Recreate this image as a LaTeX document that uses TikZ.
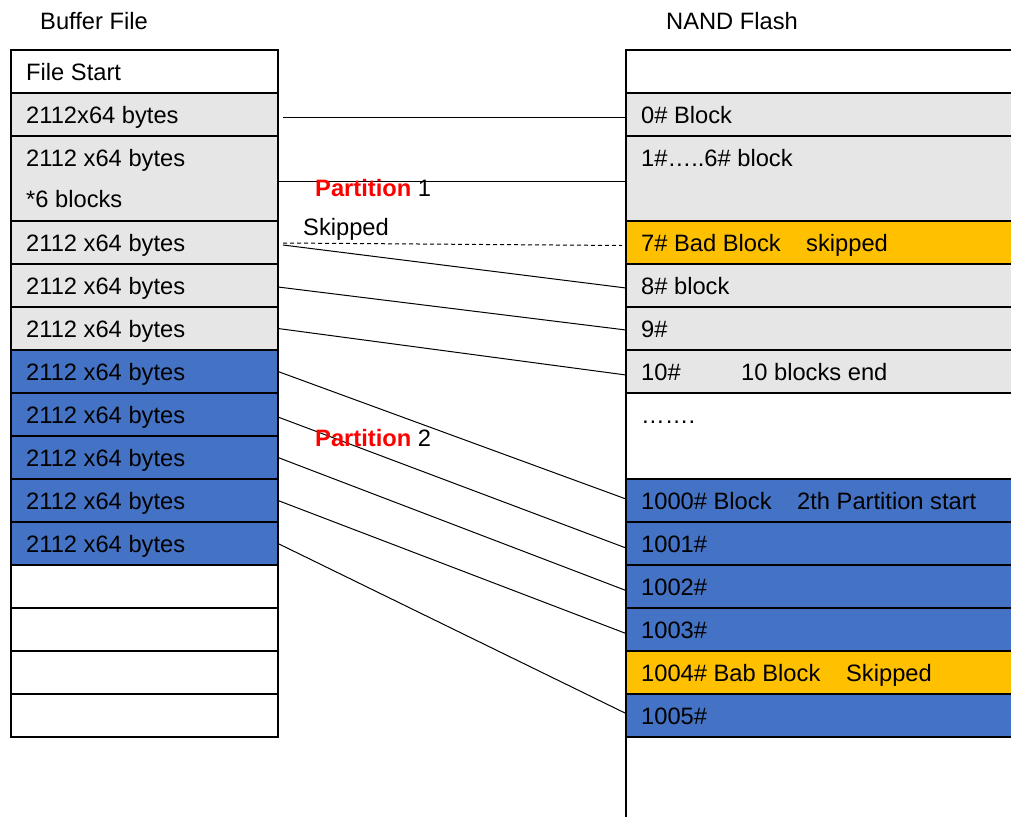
\documentclass[tikz,border=0pt]{standalone}
\usepackage{fontspec}
\setmainfont{Liberation Sans}
\definecolor{cgray}{HTML}{E6E6E6}
\definecolor{cblue}{HTML}{4472C4}
\definecolor{corange}{HTML}{FFC000}
\definecolor{cred}{HTML}{FF0000}
\begin{document}
\begin{tikzpicture}[x=1pt,y=-1pt,
  cell/.style={draw=black, line width=2pt, rectangle, inner sep=0pt, outer sep=0pt, minimum width=267pt, minimum height=43pt},
  rcell/.style={draw=black, line width=2pt, rectangle, inner sep=0pt, outer sep=0pt, minimum width=404pt, minimum height=43pt},
  txt/.style={anchor=base west, inner sep=0pt, font=\fontsize{23.7pt}{28pt}\selectfont},
  link/.style={line width=1pt, black},
  skiplink/.style={line width=1pt, black, dash pattern=on 4pt off 3pt},
  border/.style={line width=2pt, black},
]
\useasboundingbox (0,0) rectangle (1011,816);
\clip (0,0) rectangle (1011,816);
\fill[white] (0,0) rectangle (1011,816);

% ---------- left column: Buffer File ----------
\node[cell, fill=white] (L0) at (144.5,71.5) {};
\node[cell, fill=cgray] (L1) at (144.5,114.5) {};
\node[cell, fill=cgray, minimum height=85pt] (L2) at (144.5,178.5) {};
\node[cell, fill=cgray] (L3) at (144.5,242.5) {};
\node[cell, fill=cgray] (L4) at (144.5,285.5) {};
\node[cell, fill=cgray] (L5) at (144.5,328.5) {};
\node[cell, fill=cblue] (L6) at (144.5,371.5) {};
\node[cell, fill=cblue] (L7) at (144.5,414.5) {};
\node[cell, fill=cblue] (L8) at (144.5,457.5) {};
\node[cell, fill=cblue] (L9) at (144.5,500.5) {};
\node[cell, fill=cblue] (L10) at (144.5,543.5) {};
\node[cell, fill=white] (L11) at (144.5,586.5) {};
\node[cell, fill=white] (L12) at (144.5,629.5) {};
\node[cell, fill=white] (L13) at (144.5,672.5) {};
\node[cell, fill=white] (L14) at (144.5,715.5) {};

\node[txt] (tL0) at ([shift={(15,30.5)}]L0.north west) {File Start};
\node[txt] (tL1) at ([shift={(15,30.5)}]L1.north west) {2112x64 bytes};
\node[txt] (tL2a) at ([shift={(15,30.5)}]L2.north west) {2112 x64 bytes};
\node[txt] (tL2b) at ([shift={(15,71.5)}]L2.north west) {*6 blocks};
\node[txt] (tL3) at ([shift={(15,30.5)}]L3.north west) {2112 x64 bytes};
\node[txt] (tL4) at ([shift={(15,30.5)}]L4.north west) {2112 x64 bytes};
\node[txt] (tL5) at ([shift={(15,30.5)}]L5.north west) {2112 x64 bytes};
\node[txt] (tL6) at ([shift={(15,30.5)}]L6.north west) {2112 x64 bytes};
\node[txt] (tL7) at ([shift={(15,30.5)}]L7.north west) {2112 x64 bytes};
\node[txt] (tL8) at ([shift={(15,30.5)}]L8.north west) {2112 x64 bytes};
\node[txt] (tL9) at ([shift={(15,30.5)}]L9.north west) {2112 x64 bytes};
\node[txt] (tL10) at ([shift={(15,30.5)}]L10.north west) {2112 x64 bytes};

% ---------- right column: NAND Flash ----------
\node[rcell, fill=white] (R0) at (828,71.5) {};
\node[rcell, fill=cgray] (R1) at (828,114.5) {};
\node[rcell, fill=cgray, minimum height=85pt] (R2) at (828,178.5) {};
\node[rcell, fill=corange] (R3) at (828,242.5) {};
\node[rcell, fill=cgray] (R4) at (828,285.5) {};
\node[rcell, fill=cgray] (R5) at (828,328.5) {};
\node[rcell, fill=cgray] (R6) at (828,371.5) {};
\node[rcell, fill=white, minimum height=86pt] (R7) at (828,436) {};
\node[rcell, fill=cblue] (R8) at (828,500.5) {};
\node[rcell, fill=cblue] (R9) at (828,543.5) {};
\node[rcell, fill=cblue] (R10) at (828,586.5) {};
\node[rcell, fill=cblue] (R11) at (828,629.5) {};
\node[rcell, fill=corange] (R12) at (828,672.5) {};
\node[rcell, fill=cblue] (R13) at (828,715.5) {};
\coordinate (rbot) at (626,830);
\draw[border] (R13.south west) -- (rbot);

\node[txt] (tR1) at ([shift={(15,30.5)}]R1.north west) {0\# Block};
\node[txt] (tR2) at ([shift={(15,30.5)}]R2.north west) {1\#…..6\# block};
\node[txt] (tR3) at ([shift={(15,30.5)}]R3.north west) {\makebox[165pt][l]{7\# Bad Block}skipped};
\node[txt] (tR4) at ([shift={(15,30.5)}]R4.north west) {8\# block};
\node[txt] (tR5) at ([shift={(15,30.5)}]R5.north west) {9\#};
\node[txt] (tR6) at ([shift={(15,30.5)}]R6.north west) {\makebox[100pt][l]{10\#}10 blocks end};
\node[txt] (tR7) at ([shift={(15,30.5)}]R7.north west) {…….};
\node[txt] (tR8) at ([shift={(15,30.5)}]R8.north west) {\makebox[156pt][l]{1000\# Block}2th Partition start};
\node[txt] (tR9) at ([shift={(15,30.5)}]R9.north west) {1001\#};
\node[txt] (tR10) at ([shift={(15,30.5)}]R10.north west) {1002\#};
\node[txt] (tR11) at ([shift={(15,30.5)}]R11.north west) {1003\#};
\node[txt] (tR12) at ([shift={(15,30.5)}]R12.north west) {\makebox[205pt][l]{1004\# Bab Block}Skipped};
\node[txt] (tR13) at ([shift={(15,30.5)}]R13.north west) {1005\#};

% ---------- headings ----------
\node[txt] (hL) at (40,30) {Buffer File};
\node[txt] (hR) at (666,30) {NAND Flash};

% ---------- connectors ----------
\draw[link] ([shift={(5,2.5)}]L1.east) -- ([shift={(0,2.5)}]R1.west);
\draw[link] ([shift={(0,2.5)}]L2.east) -- ([shift={(0,2.5)}]R2.west);
\draw[skiplink] ([shift={(5,0.5)}]L3.east) -- ([shift={(-4,3)}]R3.west);
\draw[link] ([shift={(5,2.5)}]L3.east) -- ([shift={(0,2.5)}]R4.west);
\draw[link] ([shift={(0,1.5)}]L4.east) -- ([shift={(0,1.5)}]R5.west);
\draw[link] (L5.east) -- ([shift={(0,3.5)}]R6.west);
\draw[link] (L6.east) -- ([shift={(0,-1.5)}]R8.west);
\draw[link] ([shift={(0,2.5)}]L7.east) -- ([shift={(0,4.5)}]R9.west);
\draw[link] (L8.east) -- ([shift={(0,4)}]R10.west);
\draw[link] (L9.east) -- ([shift={(0,4)}]R11.west);
\draw[link] (L10.east) -- ([shift={(0,-2)}]R13.west);

% ---------- labels ----------
\node[txt] (p1) at (315,196) {\textcolor{cred}{\bfseries Partition} 1};
\node[txt] (sk) at (303,235) {Skipped};
\node[txt] (p2) at (315,446) {\textcolor{cred}{\bfseries Partition} 2};
\end{tikzpicture}
\end{document}
